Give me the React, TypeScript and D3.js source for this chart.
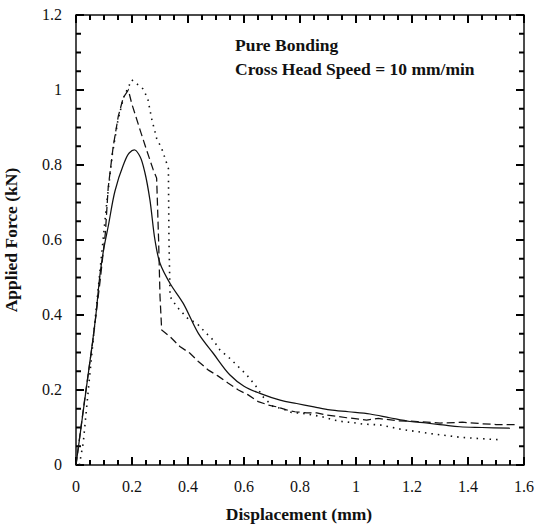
import React from 'react';
import * as d3 from 'd3';

const solidX = [0, 0.036, 0.06, 0.071, 0.086, 0.1, 0.116, 0.139, 0.169, 0.19, 0.21, 0.229, 0.246, 0.264, 0.282, 0.3, 0.336, 0.383, 0.437, 0.49, 0.55, 0.6, 0.657, 0.729, 0.788, 0.85, 0.907, 0.973, 1.05, 1.12, 1.193, 1.25, 1.31, 1.371, 1.45, 1.55];
const solidY = [0, 0.2, 0.333, 0.4, 0.51, 0.58, 0.64, 0.73, 0.8, 0.832, 0.84, 0.822, 0.78, 0.707, 0.6, 0.538, 0.484, 0.431, 0.351, 0.298, 0.24, 0.21, 0.191, 0.173, 0.164, 0.155, 0.147, 0.142, 0.136, 0.126, 0.116, 0.112, 0.107, 0.102, 0.1, 0.098];

const dashedX = [0, 0.03, 0.06, 0.086, 0.105, 0.115, 0.133, 0.151, 0.169, 0.187, 0.199, 0.229, 0.252, 0.276, 0.288, 0.295, 0.3, 0.306, 0.336, 0.371, 0.407, 0.437, 0.473, 0.508, 0.544, 0.58, 0.615, 0.651, 0.687, 0.717, 0.752, 0.782, 0.824, 0.86, 0.895, 0.93, 0.967, 1.038, 1.08, 1.15, 1.22, 1.3, 1.38, 1.45, 1.5, 1.57];
const dashedY = [0, 0.17, 0.33, 0.49, 0.62, 0.74, 0.85, 0.93, 0.98, 1.0, 0.964, 0.893, 0.84, 0.787, 0.765, 0.6, 0.45, 0.36, 0.342, 0.316, 0.298, 0.276, 0.253, 0.237, 0.218, 0.2, 0.187, 0.169, 0.16, 0.155, 0.147, 0.142, 0.139, 0.139, 0.133, 0.13, 0.126, 0.12, 0.124, 0.118, 0.116, 0.112, 0.114, 0.11, 0.108, 0.108];

const dottedX = [0.012, 0.026, 0.044, 0.07, 0.09, 0.11, 0.13, 0.15, 0.17, 0.199, 0.238, 0.256, 0.27, 0.288, 0.306, 0.318, 0.33, 0.332, 0.336, 0.36, 0.4, 0.431, 0.454, 0.49, 0.514, 0.55, 0.58, 0.61, 0.64, 0.67, 0.705, 0.735, 0.77, 0.806, 0.848, 0.877, 0.92, 0.95, 0.989, 1.025, 1.086, 1.163, 1.264, 1.371, 1.45, 1.52];
const dottedY = [0, 0.06, 0.2, 0.4, 0.55, 0.7, 0.83, 0.92, 0.98, 1.027, 1.004, 0.978, 0.924, 0.871, 0.844, 0.818, 0.791, 0.6, 0.449, 0.422, 0.39, 0.378, 0.36, 0.333, 0.307, 0.284, 0.262, 0.24, 0.213, 0.18, 0.155, 0.151, 0.14, 0.138, 0.133, 0.129, 0.12, 0.116, 0.113, 0.109, 0.107, 0.095, 0.084, 0.074, 0.07, 0.067];

const xTickValues = [0, 0.2, 0.4, 0.6, 0.8, 1, 1.2, 1.4, 1.6];
const xTickLabels = ['0', '0.2', '0.4', '0.6', '0.8', '1', '1.2', '1.4', '1.6'];
const yTickValues = [0, 0.2, 0.4, 0.6, 0.8, 1, 1.2];
const yTickLabels = ['0', '0.2', '0.4', '0.6', '0.8', '1', '1.2'];
const xMinorValues = [0.05, 0.1, 0.15, 0.25, 0.3, 0.35, 0.45, 0.5, 0.55, 0.65, 0.7, 0.75, 0.85, 0.9, 0.95, 1.05, 1.1, 1.15, 1.25, 1.3, 1.35, 1.45, 1.5, 1.55];
const yMinorValues = [0.05, 0.1, 0.15, 0.25, 0.3, 0.35, 0.45, 0.5, 0.55, 0.65, 0.7, 0.75, 0.85, 0.9, 0.95, 1.05, 1.1, 1.15];

const annotation = ['Pure Bonding', 'Cross Head Speed = 10 mm/min'];
const xTitle = 'Displacement (mm)';
const yTitle = 'Applied Force (kN)';

export default function App() {
  const W = 537, H = 526;
  const L = 76, R = 524, T = 15, B = 465;
  const x = d3.scaleLinear().domain([0, 1.6]).range([L, R]);
  const y = d3.scaleLinear().domain([0, 1.2]).range([B, T]);
  const pts = (xs: number[], ys: number[]) => xs.map((v, i) => [v, ys[i]] as [number, number]);
  const smooth = d3.line<[number, number]>().x(d => x(d[0])).y(d => y(d[1])).curve(d3.curveCatmullRom.alpha(0.5));
  const straight = d3.line<[number, number]>().x(d => x(d[0])).y(d => y(d[1]));

  const MAJ = 8, MIN = 5;
  const tw = 2;
  const font = '"Liberation Serif", "Times New Roman", serif';

  const xt = (vals: number[], len: number, pre: string) => vals.map((v, i) => (
    <g key={pre + i}>
      <line x1={x(v)} x2={x(v)} y1={B} y2={B - len} stroke="black" strokeWidth={tw} />
      <line x1={x(v)} x2={x(v)} y1={T} y2={T + len} stroke="black" strokeWidth={tw} />
    </g>
  ));
  const yt = (vals: number[], len: number, pre: string) => vals.map((v, i) => (
    <g key={pre + i}>
      <line x1={L} x2={L + len} y1={y(v)} y2={y(v)} stroke="black" strokeWidth={tw} />
      <line x1={R} x2={R - len} y1={y(v)} y2={y(v)} stroke="black" strokeWidth={tw} />
    </g>
  ));

  return (
    <svg width={W} height={H} style={{ position: 'absolute', left: 0, top: 0, background: '#fff' }}>
      <rect x={0} y={0} width={W} height={H} fill="#fff" />
      <rect x={L} y={T} width={R - L} height={B - T} fill="none" stroke="#111" strokeWidth={1.5} />
      {xt(xTickValues, MAJ, 'xM')}
      {xt(xMinorValues, MIN, 'xm')}
      {yt(yTickValues, MAJ, 'yM')}
      {yt(yMinorValues, MIN, 'ym')}

      <path d={smooth(pts(solidX, solidY)) || ''} fill="none" stroke="#111" strokeWidth={1.25} />
      <path d={straight(pts(dashedX, dashedY)) || ''} fill="none" stroke="#111" strokeWidth={1.25} strokeDasharray="8 4" />
      <path d={straight(pts(dottedX, dottedY)) || ''} fill="none" stroke="#111" strokeWidth={1.6} strokeDasharray="1.5 5" />

      <g fontFamily={font} fontSize={16} fill="#111">
        {xTickValues.map((v, i) => (
          <text key={'xl' + v} x={x(v)} y={492} textAnchor="middle">{xTickLabels[i]}</text>
        ))}
        {yTickValues.map((v, i) => (
          <text key={'yl' + v} x={62} y={y(v) + 5} textAnchor="end">{yTickLabels[i]}</text>
        ))}
      </g>

      <g fontFamily={font} fontSize={17.5} fontWeight="bold" fill="#111">
        <text x={235} y={51}>{annotation[0]}</text>
        <text x={235} y={75}>{annotation[1]}</text>
        <text x={299} y={520} textAnchor="middle">{xTitle}</text>
        <text transform={`translate(17,${(T + B) / 2}) rotate(-90)`} textAnchor="middle">{yTitle}</text>
      </g>
    </svg>
  );
}
